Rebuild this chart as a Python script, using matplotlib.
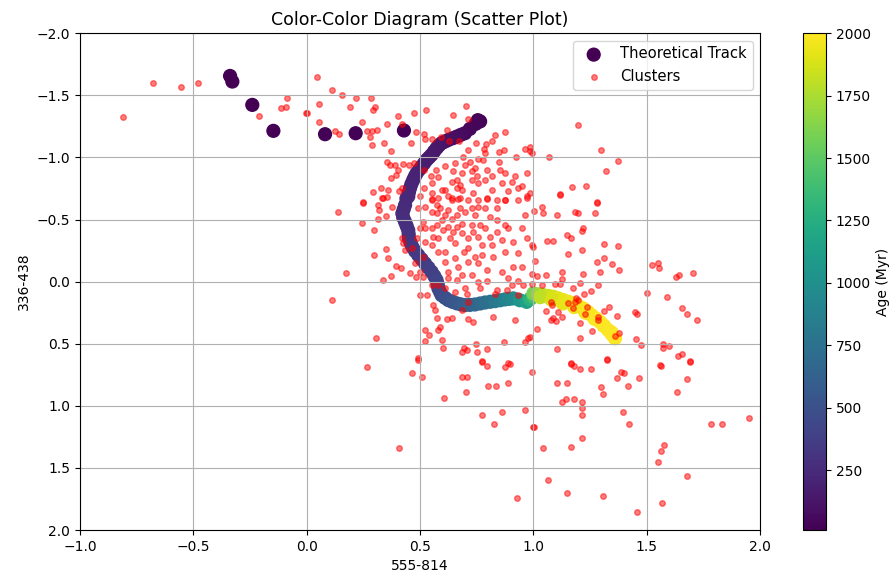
import numpy as np
import matplotlib
matplotlib.use("Agg")
import matplotlib.pyplot as plt

## theoretical track (555-814, 336-438) with age in Myr
track_x = [-0.338, -0.328, -0.240, -0.147, 0.081, 0.216, 0.429,
           0.765, 0.755, 0.745, 0.720, 0.698, 0.680, 0.662, 0.645, 0.625, 0.610, 0.595,
           0.583, 0.573, 0.562, 0.551, 0.540, 0.529, 0.518, 0.507, 0.496, 0.485, 0.477,
           0.470, 0.462, 0.456, 0.451, 0.448, 0.440, 0.434, 0.428, 0.422, 0.426, 0.434,
           0.441, 0.448, 0.450, 0.451, 0.458, 0.466, 0.478, 0.492, 0.507, 0.522, 0.537,
           0.551, 0.563, 0.573, 0.578, 0.581, 0.588, 0.595, 0.610, 0.625, 0.643, 0.662,
           0.680, 0.698, 0.720, 0.742, 0.765, 0.787, 0.810, 0.831, 0.853, 0.875, 0.893,
           0.911, 0.940, 0.970, 0.985, 1.000,
           1.000, 1.022, 1.044, 1.066, 1.088, 1.110, 1.132, 1.154, 1.176, 1.198, 1.220,
           1.240, 1.257, 1.276, 1.294, 1.312, 1.330, 1.345, 1.360,
           1.030, 1.080, 1.130, 1.180, 1.230, 1.270, 1.310, 1.345]
track_y = [-1.656, -1.611, -1.423, -1.214, -1.187, -1.195, -1.217,
           -1.290, -1.300, -1.270, -1.230, -1.195, -1.182, -1.168, -1.155, -1.141, -1.128, -1.115,
           -1.095, -1.074, -1.048, -1.021, -1.000, -0.980, -0.953, -0.927, -0.900, -0.873, -0.846,
           -0.819, -0.786, -0.753, -0.720, -0.686, -0.670, -0.616, -0.583, -0.549, -0.515, -0.481,
           -0.448, -0.414, -0.381, -0.348, -0.314, -0.280, -0.246, -0.213, -0.180, -0.146, -0.112,
           -0.079, -0.045, -0.012, 0.022, 0.055, 0.082, 0.109, 0.130, 0.149, 0.163, 0.175,
           0.183, 0.189, 0.187, 0.184, 0.176, 0.168, 0.162, 0.157, 0.150, 0.143, 0.139,
           0.135, 0.150, 0.163, 0.140, 0.122,
           0.095, 0.102, 0.109, 0.115, 0.122, 0.135, 0.149, 0.162, 0.175, 0.195, 0.216,
           0.243, 0.270, 0.297, 0.324, 0.357, 0.390, 0.423, 0.457,
           0.125, 0.145, 0.175, 0.205, 0.250, 0.300, 0.355, 0.410]
track_age = [10, 12, 14, 16, 18, 20, 22,
             25, 30, 35, 45, 55, 65, 75, 85, 95, 105, 115,
             122, 130, 138, 145, 152, 160, 167, 175, 182, 190, 197,
             204, 211, 218, 225, 232, 238, 245, 252, 258, 265, 272,
             280, 288, 296, 305, 314, 323, 332, 342, 352, 362, 372,
             383, 395, 408, 420, 432, 445, 460, 478, 500, 525, 550,
             575, 600, 630, 660, 690, 720, 760, 800, 840, 880, 915,
             950, 1050, 1150, 1280, 1400,
             1600, 1700, 1780, 1840, 1880, 1910, 1930, 1950, 1960, 1970, 1980,
             1985, 1990, 1993, 1995, 1997, 1998, 1999, 2000,
             1800, 1880, 1930, 1960, 1980, 1990, 1996, 2000]

## observed clusters
cl_x = [-0.677, -0.556, -0.481, -0.812, -0.086, -0.112, -0.091, -0.212, -0.004,
        0.044, 0.110, 0.157, 0.217, 0.284, 0.056, 0.191, 0.301, 0.294, 0.000,
        0.056, 0.245, 0.353, 0.404, 0.419, 0.473, 0.526, 0.647, 0.701, 0.713,
        0.125, 0.144, 0.265, 0.287, 0.311, 0.279, 0.287, 0.341, 0.371, 0.460,
        0.481, 0.519, 0.554, 0.522, 0.618, 0.592, 0.628, 0.672, 0.713, 0.745,
        0.791, 0.816, 0.831, 0.875, 0.781, 0.787, 0.757, 0.848, 0.870, 0.848,
        0.922, 0.963, 0.985, 0.970, 0.875, 0.353, 0.367, 0.390, 0.401, 0.393,
        0.372, 0.426, 0.475, 0.451, 0.328, 0.360, 0.294, 0.419, 0.338, 0.250,
        0.408, 0.519, 0.570, 0.548, 0.578, 0.551, 0.595, 0.640, 0.662, 0.676,
        0.662, 0.684, 0.728, 0.750, 0.787, 0.735, 0.794, 0.838, 0.889, 0.933,
        0.970, 0.875, 0.519, 0.500, 0.551, 0.581, 0.625, 0.669, 0.779, 0.720,
        0.691, 0.654, 0.742, 0.794, 0.853, 0.919,
        1.198, 1.298, 1.372, 1.320, 1.070, 0.985, 0.992, 1.172, 1.232, 1.117,
        1.279, 0.985,
        0.250, 0.139, 0.316, 0.319, 0.331, 0.353, 0.245, 0.313, 0.298, 0.348,
        0.375, 0.419, 0.298, 0.348, 0.357, 0.393, 0.415, 0.172, 0.338, 0.372,
        0.456, 0.482, 0.110, 0.304, 0.492, 0.500, 0.529, 0.558, 0.566, 0.573,
        0.588, 0.581, 0.522, 0.539, 0.595, 0.603, 0.522, 0.618, 0.640, 0.684,
        0.706, 0.713, 0.662, 0.698, 0.757, 0.765, 0.794, 0.831, 0.823, 0.735,
        0.710, 0.919, 0.872, 0.963, 0.978, 0.747, 0.750, 0.695, 0.706, 0.684,
        0.794, 0.772, 0.889, 0.904, 0.933, 0.955, 0.992, 0.992, 0.933, 0.882,
        0.838,
        0.492, 0.522, 0.551, 0.514, 0.500, 0.522, 0.573, 0.588, 0.625, 0.595,
        0.558, 0.603, 0.632, 0.551, 0.581, 0.610, 0.610, 0.654, 0.695, 0.713,
        0.742, 0.757, 0.794, 0.823, 0.772, 0.808, 0.757, 0.713, 0.684, 0.662,
        0.728, 0.765, 0.808, 0.838, 0.875, 0.889, 0.963, 0.970, 0.875, 0.794,
        0.757, 0.728, 0.676, 0.676, 0.640, 0.838, 0.970, 0.992, 0.875, 0.911,
        0.948, 0.669, 0.625, 0.581, 0.514, 0.500, 0.478, 0.434, 0.463, 0.426,
        0.514, 0.485, 0.522,
        0.551, 0.573, 0.610, 0.640, 0.662, 0.698, 0.742, 0.787, 0.573, 0.625,
        0.551, 0.581, 0.647, 0.684, 0.735, 0.787, 0.838, 0.860, 0.911, 0.948,
        0.933, 0.816, 0.772, 0.713, 0.654, 0.625, 0.684, 0.728, 0.860, 0.889,
        0.610, 0.647, 0.684, 0.698, 0.728, 0.757, 0.816, 0.860, 0.904, 0.948,
        0.610, 0.640, 0.713, 0.757, 0.816, 0.933, 0.551, 0.610, 0.654, 0.551,
        1.279, 1.272, 1.184, 1.198, 1.106, 1.044, 1.039, 1.003, 1.117, 1.220,
        1.213, 1.147, 1.166, 1.059, 1.085, 1.000, 1.313, 1.375, 1.213, 1.151,
        1.313, 1.279, 1.345, 1.007, 1.379, 1.294, 1.125, 1.217, 1.056, 1.015,
        1.125, 1.206, 1.286, 1.095, 1.117, 1.037, 1.176, 1.253, 1.225, 1.188,
        1.076, 1.081, 1.154, 1.184, 1.198, 1.176, 1.235, 1.228, 1.056, 1.110,
        1.125, 1.088, 1.076, 1.100, 1.206, 1.286, 1.286, 1.313, 1.334, 1.367,
        1.257, 1.206, 1.017, 0.985, 1.106, 1.360, 1.379, 1.326, 1.165, 1.500,
        1.588, 1.522, 1.548, 1.555, 1.628, 1.642, 1.703, 1.654, 1.676, 1.723,
        1.448, 1.456, 1.453, 1.475, 1.573, 1.573, 1.600, 1.637, 1.657, 1.691,
        1.558,
        0.265, 0.466, 0.507, 0.492, 0.686, 0.708, 0.607, 0.703, 0.772, 0.795,
        0.801, 0.835, 0.875, 0.897, 0.889, 0.992, 0.772, 0.863, 0.963, 0.828,
        1.000, 0.407, 0.929,
        1.165, 1.179, 1.206, 1.253, 1.326, 1.385, 1.401, 1.467, 1.367, 1.419,
        1.298, 1.308, 1.106, 1.147, 1.125, 1.144, 1.179, 1.213, 1.213, 1.213,
        1.394, 1.422, 1.003, 1.213, 1.165, 1.044, 1.066, 1.147, 1.306, 1.456,
        1.563, 1.691, 1.676, 1.635, 1.783, 1.831, 1.951, 1.576, 1.563, 1.548,
        1.676, 1.569]
cl_y = [-1.603, -1.565, -1.603, -1.322, -1.479, -1.394, -1.404, -1.334, -1.359,
        -1.651, -1.544, -1.504, -1.482, -1.482, -1.431, -1.410, -1.404, -1.378, -1.356,
        -1.289, -1.284, -1.270, -1.334, -1.270, -1.356, -1.383, -1.338, -1.418, -1.308,
        -1.214, -1.187, -1.214, -1.209, -1.222, -1.163, -1.101, -1.115, -1.048, -1.115,
        -1.201, -1.190, -1.147, -1.147, -1.222, -1.163, -1.133, -1.133, -1.061, -1.115,
        -1.109, -1.136, -1.181, -1.201, -1.066, -1.034, -0.988, -1.040, -1.061, -0.967,
        -1.002, -1.066, -1.048, -0.873, -0.873, -0.967, -0.940, -0.940, -0.895, -0.860,
        -0.833, -0.948, -0.954, -0.940, -0.753, -0.739, -0.718, -0.753, -0.672, -0.645,
        -0.726, -0.900, -0.900, -0.847, -0.841, -0.793, -0.739, -0.806, -0.819, -0.779,
        -0.753, -0.739, -0.819, -0.847, -0.819, -0.712, -0.672, -0.658, -0.726, -0.753,
        -0.686, -0.658, -0.753, -0.686, -0.712, -0.672, -0.686, -0.664, -0.980, -0.967,
        -1.002, -0.954, -0.913, -0.900, -0.900, -0.847,
        -1.262, -1.061, -0.975, -0.892, -1.002, -1.088, -1.034, -0.758, -0.771, -0.707,
        -0.640, -0.712,
        -0.637, -0.562, -0.616, -0.575, -0.674, -0.683, -0.476, -0.503, -0.414, -0.530,
        -0.597, -0.348, -0.213, -0.262, -0.192, -0.127, -0.111, -0.066, -0.010, -0.047,
        -0.071, -0.039, 0.151, 0.457, 0.618, 0.109, 0.109, 0.189, 0.229, 0.296,
        0.364, 0.390, 0.390, 0.431, 0.471, 0.538, 0.479, 0.302, 0.296, 0.229,
        0.103, 0.163, -0.012, 0.050, 0.007, 0.050, -0.004, 0.103, 0.283, 0.324,
        0.302, 0.310, 0.484, 0.484, 0.457, 0.506, 0.565, 0.533, 0.551, 0.565,
        0.546, 0.640, 0.658, 0.028, -0.004, 0.028, -0.058, 0.023, 0.109, 0.068,
        0.068,
        -0.589, -0.602, -0.562, -0.481, -0.428, -0.428, -0.616, -0.589, -0.575, -0.495,
        -0.361, -0.414, -0.348, -0.294, -0.240, -0.240, -0.160, -0.307, -0.240, -0.267,
        -0.200, -0.146, -0.093, -0.200, -0.294, -0.361, -0.361, -0.348, -0.468, -0.441,
        -0.455, -0.455, -0.522, -0.495, -0.455, -0.428, -0.535, -0.670, -0.656, -0.664,
        -0.602, -0.589, -0.589, -0.670, -0.670, -0.589, -0.348, -0.294, -0.240, -0.119,
        -0.119, -0.119, -0.026, 0.028, -0.039, -0.079, -0.146, -0.254, -0.267, -0.307,
        -0.200, -0.348, -0.321,
        -0.664, -0.549, -0.535, -0.508, -0.535, -0.562, -0.535, -0.589, -0.455, -0.441,
        -0.428, -0.348, -0.401, -0.388, -0.401, -0.428, -0.401, -0.334, -0.321, -0.428,
        -0.227, -0.294, -0.213, -0.160, -0.187, -0.079, -0.052, -0.052, -0.079, -0.026,
        -0.927, -0.887, -0.873, -0.940, -0.887, -0.793, -0.847, -0.793, -0.806, -0.766,
        -0.739, -0.658, -0.658, -0.658, -0.739, -0.658, -0.658, 0.055, 0.082, 0.028,
        -0.637, -0.549, -0.562, -0.549, -0.535, -0.549, -0.597, -0.567, -0.696, -0.428,
        -0.407, -0.374, -0.353, -0.328, -0.328, -0.280, -0.302, -0.288, -0.254, -0.219,
        -0.192, -0.155, -0.141, -0.168, -0.093, -0.079, -0.079, -0.058, -0.052, -0.047,
        -0.020, 0.015, 0.028, 0.023, 0.023, 0.028, 0.050, 0.076, 0.103, 0.130,
        0.163, 0.189, 0.175, 0.163, 0.149, 0.216, 0.203, 0.264, 0.237, 0.248,
        0.283, 0.296, 0.310, 0.318, 0.337, 0.283, 0.310, 0.237, 0.203, 0.275,
        0.398, 0.457, 0.385, 0.444, 0.543, 0.436, 0.417, 0.626, 0.658, 0.090,
        0.127, -0.133, -0.151, -0.106, -0.034, -0.052, -0.071, 0.216, 0.262, 0.310,
        0.243, 0.264, 0.465, 0.511, 0.506, 0.533, 0.519, 0.597, 0.583, 0.640,
        0.672,
        0.691, 0.739, 0.766, 0.632, 0.766, 0.766, 0.935, 0.887, 0.645, 0.678,
        0.839, 0.839, 0.691, 0.667, 0.814, 0.726, 1.074, 1.048, 1.034, 1.147,
        1.169, 1.343, 1.745,
        0.664, 0.680, 0.704, 0.704, 0.632, 0.726, 0.739, 0.774, 0.774, 0.839,
        0.852, 0.905, 0.814, 0.814, 0.973, 0.948, 0.948, 0.973, 1.021, 1.074,
        1.048, 1.147, 1.169, 1.257, 1.330, 1.343, 1.598, 1.699, 1.724, 1.858,
        0.680, 0.645, 0.787, 0.887, 1.147, 1.147, 1.096, 1.316, 1.364, 1.450,
        1.563, 1.785]

fig = plt.figure(figsize=(8.96, 5.79), dpi=100)
ax = fig.add_axes([0.0893, 0.0846, 0.759, 0.858])
cax = fig.add_axes([0.896, 0.0846, 0.0257, 0.858])

sc = ax.scatter(track_x, track_y, c=track_age, cmap="viridis", s=85,
                vmin=min(track_age), vmax=max(track_age), label="Theoretical Track")
ax.scatter(cl_x, cl_y, color="red", s=16, alpha=0.5, label="Clusters")

ax.set_xlim(-1.0, 2.0)
ax.set_ylim(2.0, -2.0)
ax.set_xlabel("555-814")
ax.set_ylabel("336-438")
ax.set_title("Color-Color Diagram (Scatter Plot)", fontsize=12.5)
ax.grid(True)
ax.legend(loc="upper right", fontsize=10.6)

cb = fig.colorbar(sc, cax=cax)
cb.set_label("Age (Myr)")

plt.savefig("out.png", dpi=100)
